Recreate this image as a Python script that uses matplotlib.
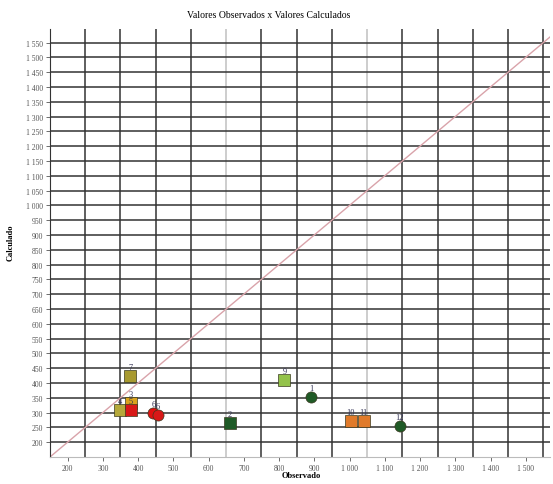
import numpy as np
import matplotlib
matplotlib.use('Agg')
import matplotlib.pyplot as plt

labels = ['4', '7', '3', '5', '6', '6', '2', '9', '1', '10', '11', '12']
observado = [349, 378, 380, 380, 443, 457, 660, 815, 891, 1004, 1040, 1142]
calculado = [308, 422, 331, 308, 298, 291, 264, 409, 352, 271, 271, 254]
cores = ['#b5a83a', '#a89a30', '#d9a21c', '#d81818', '#e01010', '#d81818',
         '#1f5a26', '#93c24a', '#1f5a26', '#e07a2a', '#e07a2a', '#1f5a26']
marcas = ['s', 's', 's', 's', 'o', 'o', 's', 's', 'o', 's', 's', 'o']

x_ticks = list(range(200, 1501, 100))
y_ticks = list(range(200, 1551, 50))


def fmt(v):
    return '{:,}'.format(v).replace(',', ' ')


plt.rcParams['font.family'] = ['Liberation Serif', 'DejaVu Serif']

fig = plt.figure(figsize=(5.53, 4.85), dpi=100)
ax = fig.add_axes([0.0904, 0.0557, 0.905, 0.882])
ax.set_xlim(150, 1570)
ax.set_ylim(150, 1595)

# grid lines
for gx in range(250, 1551, 100):
    c = '#c0c0c0' if gx in (650, 1050) else '#333333'
    ax.axvline(gx, color=c, lw=1.1, zorder=1)
for gy in y_ticks:
    ax.axhline(gy, color='#333333', lw=1.1, zorder=1)

# y = x reference line
ax.plot([150, 1600], [150, 1600], color='#d9a3aa', lw=1.0, zorder=2)

for xo, yc, c, m, lb in zip(observado, calculado, cores, marcas, labels):
    ax.plot(xo, yc, marker=m, ms=8, color=c, mec='#3a3a20', mew=0.5, zorder=4)
    ax.text(xo, yc + 18, lb, fontsize=6, ha='center', va='bottom',
            color='#333355', zorder=5)

ax.set_xticks(x_ticks)
ax.set_xticklabels([fmt(v) for v in x_ticks])
ax.set_yticks(y_ticks)
ax.set_yticklabels([fmt(v) for v in y_ticks])
ax.tick_params(labelsize=5.5, labelcolor='#555555', length=3, width=0.6,
               color='#555555', pad=2)

for s in ['top', 'right']:
    ax.spines[s].set_visible(False)
ax.spines['left'].set_color('#333333')
ax.spines['bottom'].set_color('#bbbbbb')

fig.text(0.485, 0.968, 'Valores Observados x Valores Calculados', fontsize=7,
         ha='center', va='center')
fig.text(0.545, 0.01, 'Observado', fontsize=6, fontweight='bold',
         ha='center', va='bottom')
fig.text(0.012, 0.5, 'Calculado', fontsize=6, fontweight='bold',
         rotation=90, ha='left', va='center')

plt.savefig('out.png', dpi=100)
